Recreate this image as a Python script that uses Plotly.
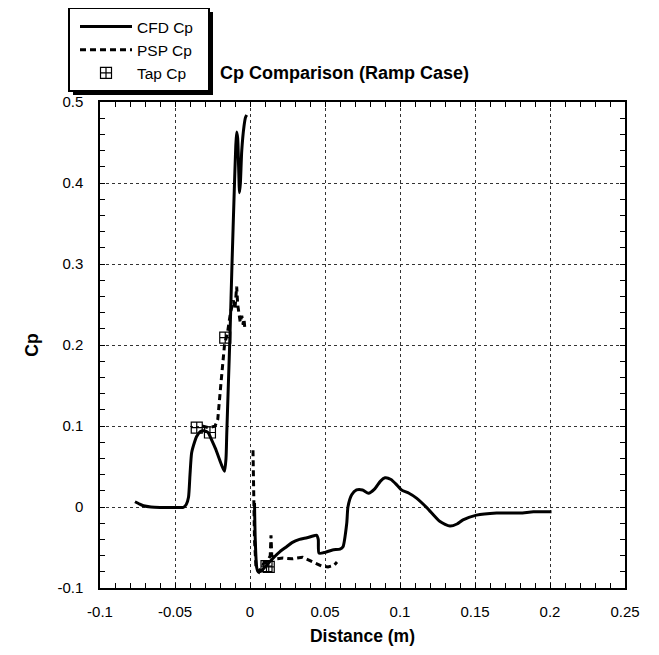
import plotly.graph_objects as go

# CFD Cp (two surface segments, None separates them)
cfd_x = [-0.0767, -0.0740, -0.0710, -0.0660, -0.0600, -0.0500, -0.0444, -0.0425, -0.0410, -0.0400,
         -0.0389, -0.0370, -0.0356, -0.0333, -0.0300, -0.0280, -0.0256, -0.0230, -0.0210, -0.0190,
         -0.0170, -0.0160, -0.0155, -0.0144, -0.0133, -0.0120, -0.0105, -0.0095, -0.0089, -0.0082,
         -0.0076, -0.0070, -0.0064, -0.0055, -0.0040, -0.0030, -0.0022, None,
         0.0030, 0.0035, 0.0045, 0.0055, 0.0075, 0.0100, 0.0120, 0.0160, 0.0200, 0.0244,
         0.0280, 0.0330, 0.0380, 0.0444, 0.0455, 0.0460, 0.0500, 0.0550, 0.0600, 0.0620,
         0.0645, 0.0653, 0.0678, 0.0710, 0.0750, 0.0790, 0.0830, 0.0870, 0.0900, 0.0940,
         0.0980, 0.1010, 0.1060, 0.1110, 0.1180, 0.1267, 0.1333, 0.1380, 0.1420, 0.1510,
         0.1644, 0.1800, 0.1890, 0.2010]
cfd_y = [0.0065, 0.0040, 0.0015, 0.0000, -0.0005, -0.0005, -0.0004, 0.0030, 0.0120, 0.0400,
         0.0670, 0.0800, 0.0870, 0.0930, 0.0940, 0.0920, 0.0830, 0.0720, 0.0620, 0.0520,
         0.0440, 0.0600, 0.0900, 0.1530, 0.2150, 0.3000, 0.3900, 0.4450, 0.4630, 0.4550,
         0.4200, 0.3880, 0.4000, 0.4400, 0.4700, 0.4810, 0.4840, None,
         0.0050, -0.0400, -0.0750, -0.0800, -0.0790, -0.0740, -0.0700, -0.0620, -0.0550, -0.0490,
         -0.0440, -0.0400, -0.0380, -0.0350, -0.0400, -0.0570, -0.0560, -0.0530, -0.0520, -0.0490,
         -0.0200, 0.0000, 0.0150, 0.0210, 0.0210, 0.0170, 0.0220, 0.0320, 0.0360, 0.0340,
         0.0270, 0.0210, 0.0170, 0.0110, -0.0010, -0.0180, -0.0235, -0.0210, -0.0160, -0.0100,
         -0.0074, -0.0074, -0.0060, -0.0060]

# PSP Cp
psp_x = [-0.0320, -0.0280, -0.0250, -0.0233, -0.0215, -0.0205, -0.0195, -0.0185, -0.0178, -0.0170,
         -0.0160, -0.0150, -0.0130, -0.0110, -0.0100, -0.0089, -0.0082, -0.0075, -0.0065, -0.0055,
         -0.0045, -0.0040, -0.0035, None,
         0.0020, 0.0022, 0.0025, 0.0030, 0.0040, 0.0060, 0.0090, 0.0120, 0.0135, 0.0140,
         0.0145, 0.0170, 0.0220, 0.0280, 0.0350, 0.0400, 0.0440, 0.0480, 0.0520, 0.0560, 0.0580]
psp_y = [0.1000, 0.0980, 0.0990, 0.1000, 0.1080, 0.1250, 0.1500, 0.1700, 0.1820, 0.2000,
         0.2080, 0.2150, 0.2400, 0.2550, 0.2450, 0.2720, 0.2500, 0.2400, 0.2280, 0.2360,
         0.2250, 0.2320, 0.2220, None,
         0.0700, 0.0400, 0.0000, -0.0400, -0.0750, -0.0800, -0.0700, -0.0660, -0.0600, -0.0350,
         -0.0600, -0.0640, -0.0630, -0.0640, -0.0620, -0.0660, -0.0700, -0.0730, -0.0740, -0.0720, -0.0680]

# Tap Cp
tap_x = [-0.0355, -0.0267, -0.0165, 0.0110, 0.0125]
tap_y = [0.098, 0.092, 0.209, -0.073, -0.074]

x_ticks = [-0.1, -0.05, 0, 0.05, 0.1, 0.15, 0.2, 0.25]
x_tick_text = ["-0.1", "-0.05", "0", "0.05", "0.1", "0.15", "0.2", "0.25"]
y_ticks = [-0.1, 0, 0.1, 0.2, 0.3, 0.4, 0.5]
y_tick_text = ["-0.1", "0", "0.1", "0.2", "0.3", "0.4", "0.5"]

FONT = "Liberation Sans, Arial, sans-serif"
# page body adds an 8px margin, so the figure is 8px smaller on each axis
W, H = 651, 647
OFF = 8
PL, PR, PT, PB = 100 - OFF, 625 - OFF, 102 - OFF, 588 - OFF   # plot area in figure px
PW, PH = PR - PL, PB - PT


def px_x(sx):
    return (sx - OFF - PL) / PW


def px_y(sy):
    return (PB - (sy - OFF)) / PH


fig = go.Figure()
fig.add_trace(go.Scatter(x=cfd_x, y=cfd_y, mode="lines", name="CFD Cp",
                         line=dict(color="black", width=3, shape="spline", smoothing=0.6),
                         connectgaps=False))
fig.add_trace(go.Scatter(x=psp_x, y=psp_y, mode="lines", name="PSP Cp",
                         line=dict(color="black", width=3, dash="6px,4px"),
                         connectgaps=False))
fig.add_trace(go.Scatter(x=tap_x, y=tap_y, mode="markers", name="Tap Cp",
                         marker=dict(symbol="square-cross-open", size=11, color="black",
                                     line=dict(width=1.2, color="black"))))

axis_common = dict(
    showline=True, linecolor="black", linewidth=1.5, mirror="allticks",
    ticks="inside", ticklen=5, tickwidth=1, tickcolor="black",
    showgrid=True, gridcolor="#333333", gridwidth=1, griddash="3px,3px",
    zeroline=False,
    tickfont=dict(family=FONT, size=15, color="black"),
)

fig.update_xaxes(range=[-0.1, 0.25], tickvals=x_ticks, ticktext=x_tick_text,
                 minor=dict(ticks="inside", dtick=0.01, ticklen=5, tickcolor="black", showgrid=False),
                 title=dict(text="<b>Distance (m)</b>", font=dict(family=FONT, size=17.5, color="black"),
                            standoff=11),
                 ticklabelstandoff=9, **axis_common)
fig.update_yaxes(range=[-0.1, 0.5], tickvals=y_ticks, ticktext=y_tick_text,
                 minor=dict(ticks="inside", dtick=0.02, ticklen=5, tickcolor="black", showgrid=False),
                 title=dict(text="<b>Cp</b>", font=dict(family=FONT, size=17.5, color="black"),
                            standoff=14),
                 ticklabelstandoff=12, **axis_common)

# legend shadow and frame
fig.add_shape(type="rect", xref="paper", yref="paper",
              x0=px_x(73), x1=px_x(213), y0=px_y(95), y1=px_y(12),
              fillcolor="black", line=dict(width=0), layer="above")
fig.add_shape(type="rect", xref="paper", yref="paper",
              x0=px_x(69), x1=px_x(209), y0=px_y(91), y1=px_y(8),
              fillcolor="white", line=dict(color="black", width=2), layer="above")

fig.update_layout(
    width=W, height=H,
    margin=dict(l=PL, r=W - PR, t=PT, b=H - PB, autoexpand=False),
    paper_bgcolor="white", plot_bgcolor="white",
    font=dict(family=FONT, color="black"),
    showlegend=True,
    legend=dict(x=px_x(75), y=px_y(10), xanchor="left", yanchor="top",
                bgcolor="rgba(0,0,0,0)", borderwidth=0, itemwidth=52,
                font=dict(family=FONT, size=15.5, color="black"), tracegroupgap=0),
    title=dict(text="<b>Cp Comparison (Ramp Case)</b>", x=(220 - OFF) / W, xref="container",
               xanchor="left", y=1 - (73 - OFF) / H, yref="container", yanchor="middle",
               font=dict(family=FONT, size=18, color="black")),
)

fig.write_html("out.html")
